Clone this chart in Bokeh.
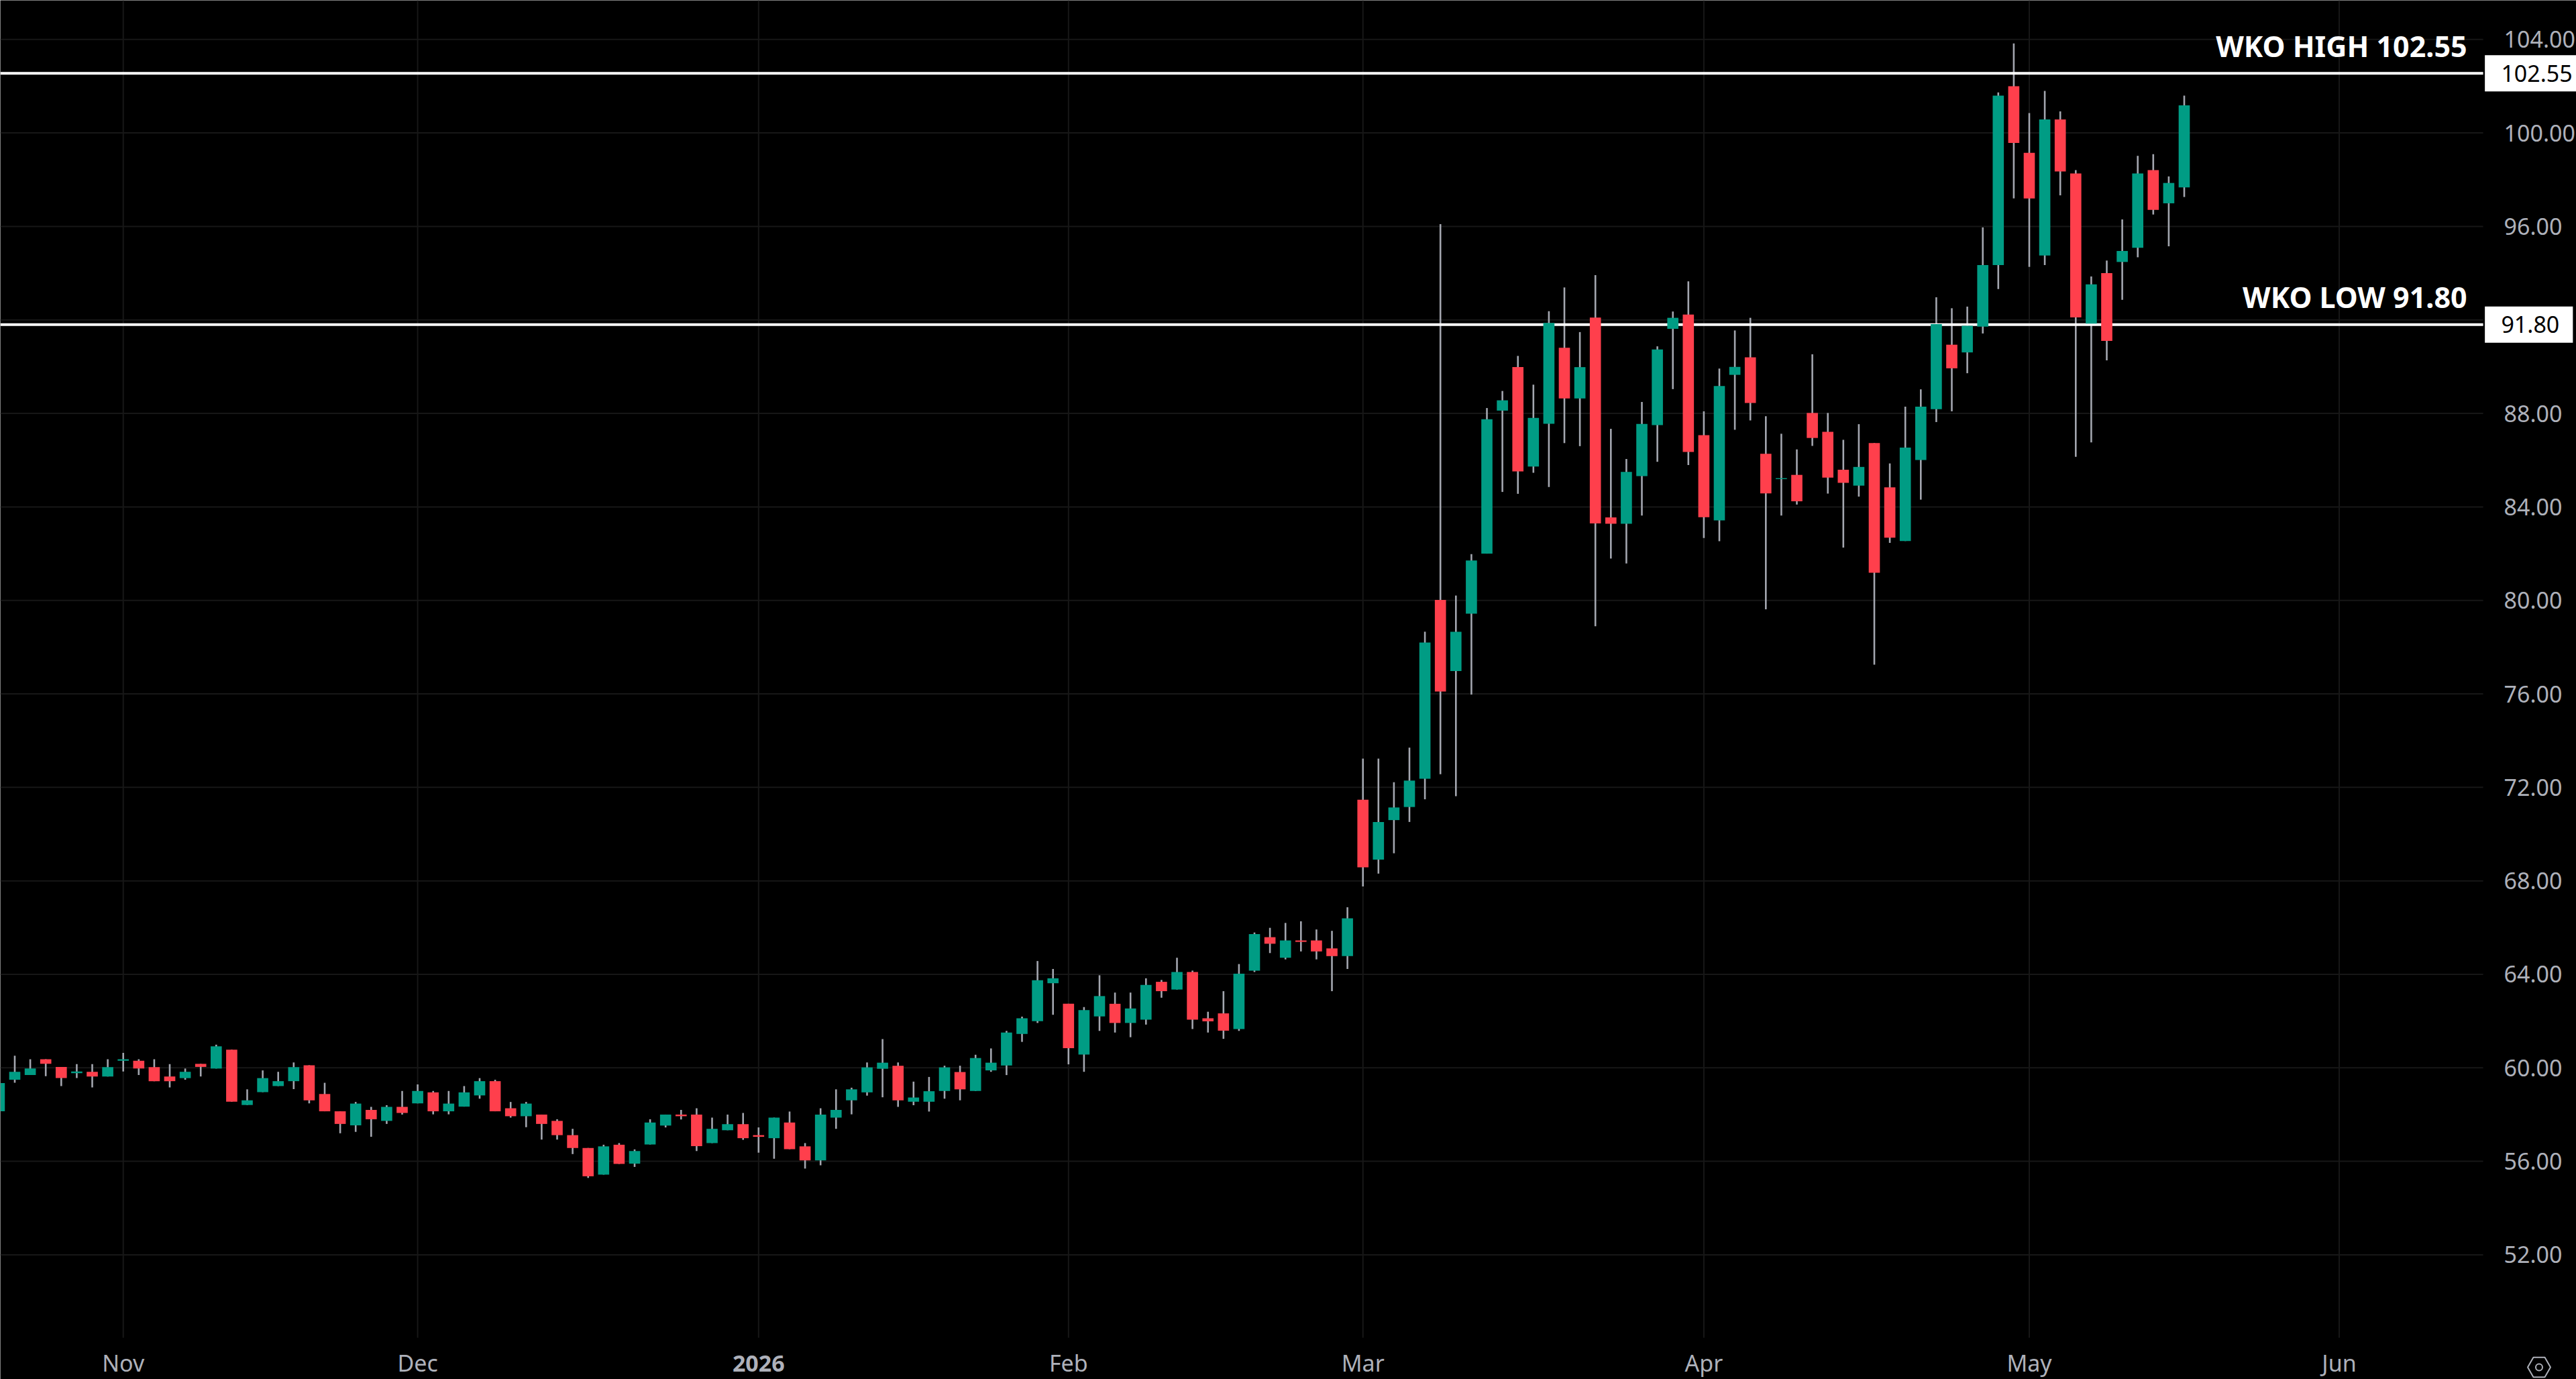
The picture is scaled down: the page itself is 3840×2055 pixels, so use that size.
from bokeh.plotting import figure
from bokeh.core.properties import value
from bokeh.models import ColumnDataSource, Range1d, LinearAxis, FixedTicker
from bokeh.embed import file_html
from bokeh.resources import INLINE

# candle values, one per session
opens = [58.14,59.49,59.69,60.37,60.04,59.77,59.83,59.63,60.30,60.30,60.03,59.63,59.56,60.17,59.97,60.78,58.41,58.96,59.22,59.43,
         60.11,58.88,58.14,57.54,58.20,57.73,58.33,58.48,58.95,58.14,58.34,58.82,59.43,58.27,57.93,58.00,57.73,57.12,56.57,55.43,
         56.71,55.90,56.72,57.53,58.00,58.00,56.78,57.33,57.59,57.12,56.99,57.66,56.64,56.04,57.87,58.61,58.95,59.96,60.09,58.55,
         58.55,59.01,59.82,59.01,59.89,60.10,61.45,62.00,63.62,62.74,60.57,62.20,62.74,61.92,62.06,63.68,63.35,64.10,62.12,62.33,
         61.66,64.16,65.59,64.71,65.45,65.45,65.11,64.78,71.47,68.91,70.60,71.16,72.37,80.02,76.98,79.43,82.00,88.12,89.98,85.73,
         87.56,90.81,88.64,92.10,83.55,83.28,85.32,87.50,91.62,92.23,87.07,83.42,89.65,90.40,86.27,85.19,85.37,88.02,87.21,85.59,
         84.91,86.73,84.84,82.54,86.01,88.18,90.94,90.61,91.71,94.35,102.00,99.15,94.76,100.58,98.27,91.84,94.00,94.48,95.09,98.41,
         96.99,97.67]
closes = [59.35,59.83,59.97,60.17,59.56,59.84,59.63,60.03,60.37,59.97,59.43,59.43,59.83,60.04,60.92,58.55,58.61,59.56,59.43,60.03,
          58.61,58.14,57.60,58.47,57.80,58.33,58.07,59.01,58.14,58.47,58.95,59.43,58.14,57.93,58.47,57.60,57.12,56.57,55.36,56.64,
          55.89,56.44,57.66,58.00,57.93,56.65,57.39,57.59,56.99,57.05,57.87,56.52,56.04,58.00,58.20,59.08,60.02,60.22,58.61,58.73,
          59.00,60.02,59.08,60.42,60.22,61.51,62.12,63.75,63.83,60.84,62.47,63.07,61.92,62.54,63.55,63.28,64.10,62.06,61.99,61.59,
          64.03,65.72,65.31,65.45,65.39,64.98,64.78,66.40,68.58,70.52,71.14,72.29,78.20,76.10,78.66,81.71,87.75,88.56,85.52,87.81,
          91.87,88.64,89.98,83.29,83.28,85.50,87.55,90.74,92.09,86.35,83.56,89.17,89.99,88.45,84.58,85.23,84.24,86.95,85.25,85.03,
          85.71,81.18,82.68,86.54,88.29,91.82,89.93,91.75,94.35,101.60,99.57,97.20,100.58,98.35,92.11,93.52,91.10,94.95,98.27,96.71,
          97.86,101.18]
highs = [59.40,60.52,60.37,60.37,60.04,60.16,60.16,60.37,60.64,60.37,60.37,60.16,59.97,60.17,60.99,60.78,59.08,59.89,59.83,60.23,
         60.11,59.36,58.14,58.54,58.33,58.40,59.01,59.29,59.01,59.01,59.22,59.56,59.49,58.54,58.54,58.00,57.80,57.39,56.57,56.71,
         56.78,56.51,57.80,58.00,58.20,58.27,57.87,58.00,58.07,57.45,57.87,58.13,56.78,58.27,59.08,59.15,60.23,61.23,60.23,59.41,
         59.61,60.09,60.09,60.56,60.83,61.58,62.19,64.57,64.23,62.74,62.60,63.96,63.22,63.22,63.83,63.76,64.71,64.16,62.40,63.28,
         64.44,65.79,65.99,66.20,66.27,65.92,65.86,66.87,73.23,73.23,72.22,73.70,78.66,96.10,80.21,81.98,88.23,88.96,90.46,89.23,
         92.37,93.39,91.48,93.92,87.34,86.05,88.49,90.87,92.36,93.65,88.09,89.92,91.55,92.09,87.88,87.13,86.46,90.53,88.02,86.87,
         87.54,86.73,85.86,88.29,89.03,92.97,92.50,92.57,95.96,101.73,103.83,100.85,101.80,100.92,98.41,93.86,94.54,96.30,99.02,99.09,
         98.14,101.60]
lows = [58.10,59.36,59.69,59.64,59.22,59.56,59.16,59.63,59.84,59.69,59.43,59.16,59.49,59.63,59.97,58.55,58.41,58.96,59.22,59.09,
        58.48,58.14,57.20,57.26,57.05,57.60,58.00,58.48,58.01,58.01,58.34,58.68,58.14,57.87,57.46,56.93,56.93,56.31,55.29,55.43,
        55.89,55.76,56.72,57.45,57.79,56.44,56.78,57.33,56.92,56.37,56.11,56.52,55.69,55.83,57.39,58.01,58.81,58.74,58.33,58.40,
        58.13,58.68,58.61,59.01,59.83,59.69,61.11,61.92,62.27,60.15,59.83,61.58,61.51,61.31,61.85,63.00,63.35,61.66,61.51,61.24,
        61.58,64.10,64.91,64.64,64.98,64.64,63.28,64.23,67.76,68.31,69.18,70.52,71.49,72.56,71.62,75.97,82.00,84.64,84.56,85.46,
        84.85,86.73,86.60,78.89,81.79,81.58,83.63,85.93,89.04,85.79,82.67,82.53,87.30,87.70,79.62,83.63,84.10,86.61,84.57,82.26,
        84.44,77.25,82.46,82.54,84.31,87.63,88.09,89.72,91.42,93.32,97.20,94.27,94.35,97.33,86.14,86.76,90.27,92.86,94.68,96.51,
        95.15,97.26]

price_ticks = [52,56,60,64,68,72,76,80,84,88,92,96,100,104]
month_ticks = [8,27,49,69,88,110,131,151]
month_names = ["Nov","Dec","2026","Feb","Mar","Apr","May","Jun"]
levels = [102.55,91.80]
level_names = ["WKO HIGH 102.55","WKO LOW 91.80"]
level_tags = ["102.55","91.80"]

GREEN = "#009C84"
RED = "#FF3F4C"
WICK = "#A3A6AF"
GRID = "#171717"
AXIS_TEXT = "#AEB1BA"
FONT = "Noto Sans"

# chart pane ends here, the rest of the canvas holds the price and time scales
PANE_RIGHT = 160.29
PANE_BOTTOM = 48.45
LEFT = 0.069
TOP = 105.674

x = list(range(len(opens)))
source = ColumnDataSource(dict(x=x, open=opens, close=closes, high=highs, low=lows,
                               color=[GREEN if c >= o else RED for o, c in zip(opens, closes)]))

# 23.1 px per session, 34.83 px per price unit
p = figure(width=3840, height=2055, output_backend="svg", toolbar_location=None,
           x_range=Range1d(LEFT,166.303), y_range=Range1d(46.672,TOP),
           x_axis_location=None, y_axis_location=None,
           min_border_left=0, min_border_top=0, min_border_right=0, min_border_bottom=0,
           background_fill_color="black", border_fill_color="black", outline_line_color=None)
p.grid.visible = False

right_axis = LinearAxis(ticker=FixedTicker(ticks=price_ticks), fixed_location=PANE_RIGHT,
                        major_label_overrides={t: ("" if t == 92 else "%.2f" % t) for t in price_ticks})
bottom_axis = LinearAxis(ticker=FixedTicker(ticks=month_ticks), fixed_location=PANE_BOTTOM,
                         major_label_overrides={t: ("" if n == "2026" else n) for t, n in zip(month_ticks, month_names)})
for axis in (right_axis, bottom_axis):
    axis.axis_line_color = None
    axis.major_tick_line_color = None
    axis.minor_tick_line_color = None
    axis.major_label_text_color = AXIS_TEXT
    axis.major_label_text_font = FONT
    axis.major_label_text_font_size = "34px"
right_axis.major_label_standoff = 25
bottom_axis.major_label_standoff = 8
p.add_layout(right_axis, "right")
p.add_layout(bottom_axis, "below")

p.segment(x0=month_ticks, x1=month_ticks, y0=PANE_BOTTOM, y1=TOP, line_color=GRID, line_width=2)
p.segment(x0=LEFT, x1=PANE_RIGHT, y0=price_ticks, y1=price_ticks, line_color=GRID, line_width=2)

p.segment(x0="x", x1="x", y0="low", y1="high", source=source, line_color=WICK, line_width=2.6)
p.segment(x0=LEFT, x1=PANE_RIGHT, y0=levels, y1=levels, line_color="white", line_width=4)
p.vbar(x="x", width=0.72, top="open", bottom="close", source=source, fill_color="color", line_color=None)

# level captions and their tags on the price scale
p.text(x=159.25, y=[v+1.17 for v in levels], text=level_names, text_color="white", text_font=value(FONT),
       text_font_size="43px", text_font_style="bold", text_align="right", text_baseline="alphabetic")
p.quad(left=160.4, right=[166.303,166.08], top=[v+0.775 for v in levels], bottom=[v-0.775 for v in levels],
       fill_color="white", line_color=None)
p.text(x=161.45, y=levels, text=level_tags, text_color="black", text_font=value(FONT),
       text_font_size="34px", text_align="left", text_baseline="middle")
p.text(x=month_ticks[2], y=47.36, text=[month_names[2]], text_color=AXIS_TEXT, text_font=value(FONT),
       text_font_size="34px", text_font_style="bold", text_align="center", text_baseline="middle")

# settings icon in the corner
p.scatter(x=[163.9], y=[47.19], marker="hex", size=34, fill_color=None, line_color=AXIS_TEXT, line_width=2)
p.scatter(x=[163.9], y=[47.19], marker="circle", size=10, fill_color=None, line_color=AXIS_TEXT, line_width=2)

open("out.html", "w").write(file_html(p, INLINE))
